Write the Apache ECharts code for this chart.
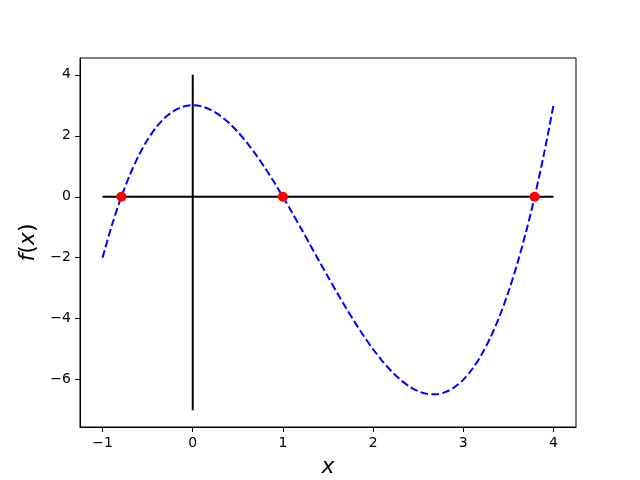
<!DOCTYPE html>
<html>
<head>
<meta charset="utf-8">
<script src="https://cdn.jsdelivr.net/npm/echarts@6/dist/echarts.min.js"></script>
<style>html,body{margin:0;padding:0;background:#fff;}#c{width:640px;height:480px;}</style>
</head>
<body>
<div id="c"></div>
<script>
// Curve samples
var curveX = [-1.0,-0.9,-0.8,-0.7,-0.6,-0.5,-0.4,-0.3,-0.2,-0.1,0.0,0.1,0.2,0.3,0.4,0.5,0.6,0.7,0.8,0.9,1.0,1.1,1.2,1.3,1.4,1.5,1.6,1.7,1.8,1.9,2.0,2.1,2.2,2.3,2.4,2.5,2.6,2.7,2.8,2.9,3.0,3.1,3.2,3.3,3.4,3.5,3.6,3.7,3.8,3.9,4.0];
var curveY = [-2,-0.969,-0.072,0.697,1.344,1.875,2.296,2.613,2.832,2.959,3,2.961,2.848,2.667,2.424,2.125,1.776,1.383,0.952,0.489,0,-0.509,-1.032,-1.563,-2.096,-2.625,-3.144,-3.647,-4.128,-4.581,-5,-5.379,-5.712,-5.993,-6.216,-6.375,-6.464,-6.477,-6.408,-6.251,-6,-5.649,-5.192,-4.623,-3.936,-3.125,-2.184,-1.107,0.112,1.479,3];
var rootsX = [-0.791, 1.0, 3.791];
var rootsY = [0, 0, 0];
var hLineX = [-1, 4];
var hLineY = [0, 0];
var vLineX = [0, 0];
var vLineY = [-7, 4];
var xTicks = [-1, 0, 1, 2, 3, 4];
var yTicks = [-6, -4, -2, 0, 2, 4];

function zip(a, b) { return a.map(function (v, i) { return [v, b[i]]; }); }
function fmt(v) { return v < 0 ? '\u2212' + Math.abs(v) : String(v); }

var font = 'DejaVu Sans';
var chart = echarts.init(document.getElementById('c'), null, {renderer: 'canvas'});
chart.setOption({
  animation: false,
  backgroundColor: '#fff',
  grid: {left: 80, right: 64, top: 58, bottom: 53, outerBoundsMode: 'none', containLabel: false, show: true, borderColor: '#000', borderWidth: 1, backgroundColor: 'transparent'},
  xAxis: {
    type: 'value', min: -1.25, max: 4.25,
    name: '{i|x}', nameLocation: 'middle', nameGap: 29,
    nameTextStyle: {fontFamily: font, fontSize: 22, color: '#000', rich: {i: {fontFamily: font, fontSize: 22, fontStyle: 'italic', color: '#000'}}},
    axisLine: {show: true, onZero: false, lineStyle: {color: '#000', width: 1}},
    axisTick: {show: true, length: 5, customValues: xTicks, lineStyle: {color: '#000', width: 1}},
    axisLabel: {customValues: xTicks, formatter: fmt, fontFamily: font, fontSize: 14, color: '#000', margin: 9},
    splitLine: {show: false}
  },
  yAxis: {
    type: 'value', min: -7.55, max: 4.55,
    name: '{i|f}({i|x})', nameLocation: 'middle', nameGap: 34, nameRotate: 90,
    nameTextStyle: {fontFamily: font, fontSize: 22, color: '#000', rich: {i: {fontFamily: font, fontSize: 22, fontStyle: 'italic', color: '#000'}}},
    axisLine: {show: true, onZero: false, lineStyle: {color: '#000', width: 1}},
    axisTick: {show: true, length: 5, customValues: yTicks, lineStyle: {color: '#000', width: 1}},
    axisLabel: {customValues: yTicks, formatter: fmt, fontFamily: font, fontSize: 14, color: '#000', margin: 9},
    splitLine: {show: false}
  },
  series: [
    {type: 'line', data: zip(hLineX, hLineY), symbol: 'none', lineStyle: {color: '#000', width: 2}, z: 2},
    {type: 'line', data: zip(vLineX, vLineY), symbol: 'none', lineStyle: {color: '#000', width: 2}, z: 2},
    {type: 'line', data: zip(curveX, curveY), symbol: 'none', smooth: 0.3, lineStyle: {color: '#0000ff', width: 2, type: [7.7, 3.3]}, z: 3},
    {type: 'scatter', data: zip(rootsX, rootsY), symbol: 'circle', symbolSize: 10, itemStyle: {color: '#ff0000', opacity: 1}, z: 4}
  ]
});
</script>
</body>
</html>
